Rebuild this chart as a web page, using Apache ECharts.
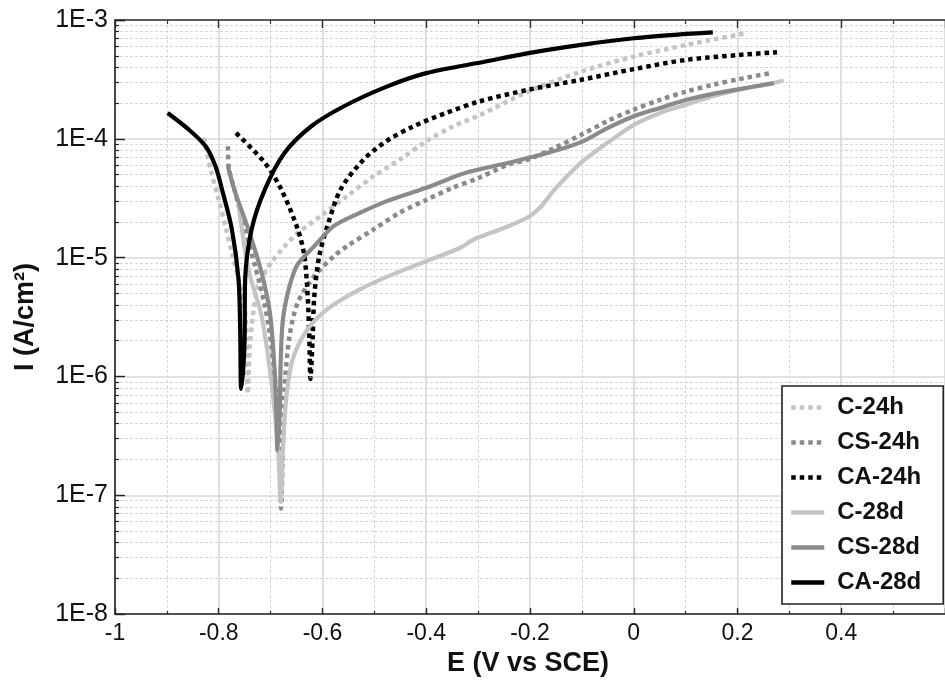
<!DOCTYPE html>
<html>
<head>
<meta charset="utf-8">
<script src="https://cdn.jsdelivr.net/npm/echarts@6/dist/echarts.min.js"></script>
<style>html,body{margin:0;padding:0;background:#fff;}#chart{width:945px;height:682px;}</style>
</head>
<body>
<div id="chart"></div>
<script>
// Series names (legend order)
const seriesNames = ['C-24h', 'CS-24h', 'CA-24h', 'C-28d', 'CS-28d', 'CA-28d'];

// Potential E (V vs SCE) and current I (A/cm²) for each curve
const E_C24h = [-0.8286,-0.8158,-0.80,-0.7872,-0.7747,-0.7619,-0.7491,-0.7461,-0.7442,-0.74,-0.7333,-0.7238,-0.6985,-0.6539,-0.6032,-0.5524,-0.5015,-0.4508,-0.40,-0.3491,-0.2985,-0.2032,-0.1015,0.0,0.1015,0.2158];
const I_C24h = [1.02e-4,5.52e-5,3.09e-5,1.85e-5,1.10e-5,6.59e-6,3.46e-6,1.82e-6,7.14e-7,1.82e-6,3.46e-6,5.8e-6,9.1e-6,1.52e-5,2.24e-5,3.3e-5,4.84e-5,6.7e-5,9.53e-5,1.27e-4,1.57e-4,2.50e-4,3.68e-4,4.92e-4,6.17e-4,7.73e-4];

const E_CS24h = [-0.7823,-0.781,-0.7682,-0.7491,-0.7301,-0.711,-0.6985,-0.6889,-0.6825,-0.68,-0.673,-0.6634,-0.6476,-0.6158,-0.5778,-0.5524,-0.5015,-0.4508,-0.40,-0.3491,-0.3015,-0.2413,-0.2032,-0.1524,-0.1015,-0.0508,0.0,0.0508,0.1015,0.1524,0.2032,0.2634];
const I_CS24h = [8.65e-5,5.87e-5,3.52e-5,1.73e-5,8.51e-6,3.94e-6,1.82e-6,6.92e-7,2.63e-7,7.74e-8,7.87e-7,2.2e-6,4.2e-6,7.0e-6,1.03e-5,1.25e-5,1.73e-5,2.39e-5,3.06e-5,3.87e-5,4.63e-5,6.08e-5,6.7e-5,8.4e-5,1.08e-4,1.41e-4,1.76e-4,2.13e-4,2.50e-4,2.85e-4,3.18e-4,3.57e-4];

const E_CA24h = [-0.7667,-0.711,-0.6794,-0.6476,-0.6349,-0.6286,-0.6253,-0.6234,-0.619,-0.6158,-0.6063,-0.5905,-0.5651,-0.5238,-0.48,-0.4253,-0.3619,-0.2985,-0.2032,-0.1015,0.0,0.1015,0.2032,0.2762];
const I_CA24h = [1.12e-4,6.28e-5,3.75e-5,1.73e-5,1.03e-5,4.77e-6,2.07e-6,9.55e-7,2.07e-6,4.77e-6,1.03e-5,1.85e-5,3.75e-5,6.47e-5,9.37e-5,1.27e-4,1.65e-4,2.06e-4,2.59e-4,3.14e-4,3.86e-4,4.62e-4,5.08e-4,5.36e-4];

const E_C28d = [-0.7619,-0.7429,-0.7175,-0.6985,-0.6857,-0.6806,-0.6762,-0.6699,-0.6571,-0.6286,-0.5905,-0.527,-0.4635,-0.40,-0.3366,-0.3048,-0.2539,-0.2032,-0.1777,-0.1524,-0.1015,-0.0508,0.0,0.0508,0.1015,0.1524,0.2032,0.2539,0.289];
const I_C28d = [2.81e-5,8.0e-6,3.24e-6,8.95e-7,2.47e-7,8.8e-8,2.47e-7,6.49e-7,1.41e-6,2.51e-6,3.69e-6,5.43e-6,7.26e-6,9.33e-6,1.2e-5,1.45e-5,1.75e-5,2.2e-5,2.72e-5,3.75e-5,6.3e-5,9.25e-5,1.31e-4,1.65e-4,1.94e-4,2.28e-4,2.59e-4,2.85e-4,3.10e-4];

const E_CS28d = [-0.7823,-0.7682,-0.7429,-0.7175,-0.7015,-0.6933,-0.6889,-0.687,-0.6825,-0.6806,-0.6762,-0.6634,-0.6476,-0.6158,-0.5778,-0.527,-0.4762,-0.40,-0.3238,-0.2413,-0.1651,-0.1015,-0.0508,0.0,0.0508,0.1015,0.1524,0.2032,0.2699];
const I_CS28d = [5.87e-5,3.52e-5,1.73e-5,7.5e-6,3.46e-6,1.32e-6,5.01e-7,2.39e-7,5.01e-7,1.32e-6,3.04e-6,5.79e-6,8.81e-6,1.25e-5,1.85e-5,2.39e-5,2.99e-5,3.87e-5,5.18e-5,6.28e-5,7.62e-5,9.37e-5,1.23e-4,1.55e-4,1.82e-4,2.13e-4,2.39e-4,2.62e-4,2.94e-4];

const E_CA28d = [-0.8985,-0.8571,-0.8253,-0.8063,-0.7937,-0.7747,-0.7619,-0.7587,-0.7568,-0.7505,-0.7491,-0.7366,-0.711,-0.673,-0.6223,-0.5587,-0.4762,-0.40,-0.2857,-0.2032,-0.1015,0.0,0.1015,0.1524];
const I_CA28d = [1.65e-4,1.19e-4,8.65e-5,5.87e-5,3.75e-5,1.73e-5,6.59e-6,2.51e-6,7.87e-7,1.82e-6,6.59e-6,1.73e-5,3.75e-5,7.62e-5,1.27e-4,1.88e-4,2.75e-4,3.57e-4,4.47e-4,5.26e-4,6.17e-4,7.02e-4,7.63e-4,7.88e-4];

// Axis settings
const xMin = -1, xMax = 0.6, xStep = 0.2;
const yMin = 1e-8, yMax = 1e-3;

const allE = [E_C24h, E_CS24h, E_CA24h, E_C28d, E_CS28d, E_CA28d];
const allI = [I_C24h, I_CS24h, I_CA24h, I_C28d, I_CS28d, I_CA28d];
const colors = ['#c4c4c4', '#8a8a8a', '#000000', '#c4c4c4', '#8a8a8a', '#000000'];
const dashed = [true, true, true, false, false, false];

const font = '"Liberation Sans", Arial, sans-serif';

const series = seriesNames.map((name, k) => ({
  name: name,
  type: 'line',
  data: allE[k].map((e, i) => [e, allI[k][i]]),
  symbol: 'none',
  smooth: 0.3,
  lineStyle: {
    color: colors[k],
    width: dashed[k] ? 4.5 : 4.2,
    type: dashed[k] ? [4.5, 4] : 'solid',
    cap: 'butt'
  },
  itemStyle: { color: colors[k] },
  z: 3 + k
}));

const gridLine = { show: true, lineStyle: { color: '#d8d8d8', width: 1.6 } };
const minorGridLine = { show: true, lineStyle: { color: '#d6d6d6', width: 1, type: [3, 2] } };

const chart = echarts.init(document.getElementById('chart'), null, { renderer: 'canvas' });
chart.setOption({
  animation: false,
  backgroundColor: '#ffffff',
  grid: { left: 115, right: -10, top: 20, bottom: 66, containLabel: false },
  xAxis: [{
    type: 'value',
    min: xMin, max: xMax, interval: xStep,
    position: 'bottom',
    axisLine: { show: true, onZero: false, lineStyle: { color: '#222', width: 1.6 } },
    axisTick: { show: true, inside: true, length: 6, lineStyle: { color: '#222', width: 1.4 } },
    minorTick: { show: true, splitNumber: 2, length: 3, lineStyle: { color: '#222', width: 1.2 } },
    splitLine: gridLine,
    minorSplitLine: minorGridLine,
    axisLabel: {
      color: '#111', fontFamily: font, fontSize: 23, margin: 8,
      showMaxLabel: false,
      formatter: v => (Math.abs(v) < 1e-9 ? '0' : String(Math.round(v * 10) / 10))
    },
    name: 'E (V vs SCE)',
    nameLocation: 'middle',
    nameGap: 34,
    nameTextStyle: { color: '#111', fontFamily: font, fontSize: 27, fontWeight: 'bold', padding: [0, 4, 0, 0] }
  }, {
    type: 'value',
    min: xMin, max: xMax, interval: xStep,
    position: 'top',
    axisLine: { show: true, onZero: false, lineStyle: { color: '#333', width: 1.6 } },
    axisTick: { show: true, inside: true, length: 8, lineStyle: { color: '#333', width: 1.4 } },
    minorTick: { show: true, splitNumber: 2, length: 4, lineStyle: { color: '#333', width: 1.2 } },
    splitLine: { show: false },
    axisLabel: { show: false }
  }],
  yAxis: {
    type: 'log',
    logBase: 10,
    min: yMin, max: yMax, interval: 1,
    axisLine: { show: true, onZero: false, lineStyle: { color: '#222', width: 1.6 } },
    axisTick: { show: true, inside: true, length: 10, lineStyle: { color: '#222', width: 1.4 } },
    minorTick: { show: true, splitNumber: 9, length: 4, lineStyle: { color: '#222', width: 1.2 } },
    splitLine: gridLine,
    minorSplitLine: minorGridLine,
    axisLabel: {
      color: '#111', fontFamily: font, fontSize: 25, margin: 7,
      formatter: v => '1E' + Math.round(Math.log10(v))
    },
    name: 'I (A/cm²)',
    nameLocation: 'middle',
    nameGap: 76,
    nameTextStyle: { color: '#111', fontFamily: font, fontSize: 27, fontWeight: 'bold' }
  },
  legend: {
    orient: 'vertical',
    left: 782, top: 386,
    data: seriesNames,
    itemWidth: 33, itemHeight: 14,
    itemGap: 10,
    padding: [9, 22, 9, 7],
    backgroundColor: '#ffffff',
    borderColor: '#222', borderWidth: 1.6,
    itemStyle: { opacity: 0 },
    lineStyle: { width: 4.5 },
    textStyle: { color: '#111', fontFamily: font, fontSize: 24, fontWeight: 'bold', lineHeight: 25, padding: [0, 0, 0, 8] },
    selectedMode: false
  },
  series: series
});
</script>
</body>
</html>
